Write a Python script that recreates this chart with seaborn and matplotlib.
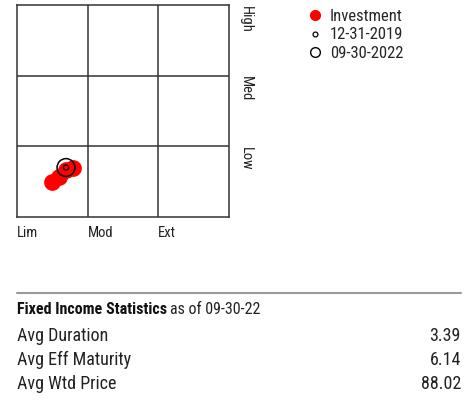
import matplotlib
matplotlib.use('Agg')
import matplotlib.pyplot as plt
from matplotlib import font_manager
from matplotlib.lines import Line2D
import seaborn as sns
import pandas as pd

# style box data (duration x, credit quality y), box units 0-3
inv_x = [0.50, 0.60, 0.693, 0.79]
inv_y = [0.50, 0.56, 0.665, 0.693]
pt2019 = (0.693, 0.70)
pt2022 = (0.693, 0.70)
x_labels = ['Lim', 'Mod', 'Ext']
y_labels = ['Low', 'Med', 'High']

stat_names = ['Avg Duration', 'Avg Eff Maturity', 'Avg Wtd Price']
stat_vals = ['3.39', '6.14', '88.02']

sns.set_style('white')
names = {f.name for f in font_manager.fontManager.ttflist}
fam = 'DejaVu Sans'
for cand in ['Roboto Condensed', 'Liberation Sans Narrow', 'Roboto']:
    if cand in names:
        fam = cand
        break
plt.rcParams['font.family'] = [fam, 'DejaVu Sans']

fig = plt.figure(figsize=(4.68, 4.03), dpi=100)
ax = fig.add_axes([17/468, 1-217/403, 212/468, 212/403])

df = pd.DataFrame({'x': inv_x, 'y': inv_y})
sns.scatterplot(data=df, x='x', y='y', color='#ff0000', s=145, linewidth=0, ax=ax, zorder=3)
sns.scatterplot(x=[pt2022[0]], y=[pt2022[1]], marker='o', s=165, facecolor='none',
                edgecolor='black', linewidth=1.1, ax=ax, zorder=4)
sns.scatterplot(x=[pt2019[0]], y=[pt2019[1]], marker='o', s=14, facecolor='none',
                edgecolor='black', linewidth=0.9, ax=ax, zorder=5)

ax.set_xlim(0, 3)
ax.set_ylim(0, 3)
for v in [1, 2]:
    ax.axvline(v, color='#333333', lw=1.1)
    ax.axhline(v, color='#333333', lw=1.1)
for s in ax.spines.values():
    s.set_color('#333333')
    s.set_linewidth(1.1)
ax.set_xticks([])
ax.set_yticks([])
ax.set_xlabel('')
ax.set_ylabel('')

for i, lab in enumerate(x_labels):
    ax.text(i, -0.22, lab, ha='left', va='center', fontsize=10.5, color='#222222')
for i, lab in enumerate(y_labels):
    ax.text(3.24, i + 0.99, lab, ha='center', va='top', rotation=-90, fontsize=10.5,
            color='#222222')

handles = [
    Line2D([], [], marker='o', ls='', color='#ff0000', markersize=7),
    Line2D([], [], marker='o', ls='', mfc='none', mec='black', markersize=3.5, mew=0.9),
    Line2D([], [], marker='o', ls='', mfc='none', mec='black', markersize=7, mew=1.0),
]
fig.legend(handles, ['Investment', '12-31-2019', '09-30-2022'], loc='upper left',
           bbox_to_anchor=(298/468, 1 - 2/403), frameon=False, fontsize=12,
           handletextpad=0.3, labelspacing=0.22, handlelength=1.2, borderaxespad=0)

# statistics table
fig.add_artist(Line2D([17/468, 461/468], [1-293/403, 1-293/403], color='#999999', lw=1.5))
t = fig.text(17/468, 1-309/403, 'Fixed Income Statistics', fontsize=11.5, fontweight='bold',
             va='center', ha='left', color='#111111')
fig.canvas.draw()
bb = t.get_window_extent()
fig.text((bb.x1 + 3)/468, 1-309/403, 'as of 09-30-22', fontsize=11.5, va='center', ha='left',
         color='#222222')
for i, (n, v) in enumerate(zip(stat_names, stat_vals)):
    yy = 1 - (336 + 24*i)/403
    fig.text(17/468, yy, n, fontsize=13, va='center', ha='left', color='#222222')
    fig.text(461/468, yy, v, fontsize=13, va='center', ha='right', color='#222222')

fig.savefig('out.png', dpi=100)
